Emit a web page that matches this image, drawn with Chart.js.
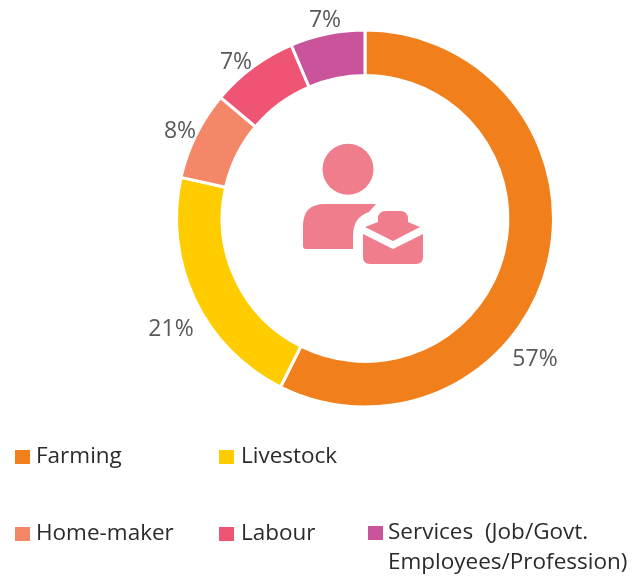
<!DOCTYPE html>
<html><head><meta charset="utf-8">
<style>
html,body{margin:0;padding:0;background:#fff}
#wrap{position:relative;width:643px;height:577px}
canvas{position:absolute;left:0;top:0}
</style>
<script src="https://cdn.jsdelivr.net/npm/chart.js@4"></script>
</head><body><div id="wrap"><canvas id="c" width="643" height="577"></canvas></div>
<script>
const categories=["Farming","Livestock","Home-maker","Labour","Services  (Job/Govt. Employees/Profession)"];
const values=[57.4,21.1,7.6,7.5,6.4];
const colors=["#F1801C","#FFCC00","#F48767","#EF5474","#C9549B"];
const labels=["57%","21%","8%","7%","7%"];
const FONT='"Open Sans", "Noto Sans", sans-serif';
const cx=365,cy=218.5;
const pctPos=[[535,359],[171,329],[180,131],[236,62],[325,20]];
const legend=[
 {i:0,x:15,y:457,tx:36,lines:["Farming"]},
 {i:1,x:219,y:457,tx:241,lines:["Livestock"]},
 {i:2,x:15,y:534,tx:36,lines:["Home-maker"]},
 {i:3,x:219,y:534,tx:241,lines:["Labour"]},
 {i:4,x:368,y:533,tx:388,lines:["Services  (Job/Govt.","Employees/Profession)"]}
];
const overlay={id:'overlay',afterDraw(chart){
 const g=chart.ctx;g.save();
 g.font='23px '+FONT;g.fillStyle='#58595B';g.textAlign='center';g.textBaseline='middle';
 labels.forEach((t,i)=>g.fillText(t,pctPos[i][0],pctPos[i][1]));
 g.textAlign='left';g.font='22.5px '+FONT;
 legend.forEach(l=>{
  g.fillStyle=colors[l.i];g.fillRect(l.x,l.y-7,15,14);
  g.fillStyle='#2B2B2B';
  l.lines.forEach((s,k)=>g.fillText(s,l.tx,l.y+k*30));
 });
 // centre icon
 const c='#F07D8B';g.fillStyle=c;
 g.beginPath();g.arc(348,169.3,25.5,0,Math.PI*2);g.fill();
 g.beginPath();g.moveTo(303,246);g.lineTo(303,226);g.quadraticCurveTo(303,204,325,204);g.lineTo(376,204);
 g.lineTo(369,212);g.quadraticCurveTo(353,217,353,236);g.lineTo(353,249);g.lineTo(306,249);g.quadraticCurveTo(303,249,303,246);g.closePath();g.fill();
 g.beginPath();g.moveTo(365,227);g.lineTo(378,222);g.lineTo(378,219);g.quadraticCurveTo(378,211,386,211);g.lineTo(400,211);g.quadraticCurveTo(408,211,408,219);g.lineTo(408,222);g.lineTo(420,227);g.lineTo(393,241);g.closePath();g.fill();
 g.beginPath();g.moveTo(363,234);g.lineTo(393,249);g.lineTo(423,234);g.lineTo(423,257);g.quadraticCurveTo(423,264,416,264);g.lineTo(370,264);g.quadraticCurveTo(363,264,363,257);g.closePath();g.fill();
 g.restore();
}};
new Chart(document.getElementById('c'),{type:'doughnut',plugins:[overlay],
 data:{labels:categories,datasets:[{data:values,backgroundColor:colors,borderColor:'#fff',borderWidth:3}]},
 options:{responsive:false,animation:false,cutout:'75.8%',rotation:0,
  layout:{padding:{left:cx-190,right:643-cx-190,top:cy-190,bottom:577-cy-190}},
  plugins:{legend:{display:false},tooltip:{enabled:false}}}
});
</script></body></html>
